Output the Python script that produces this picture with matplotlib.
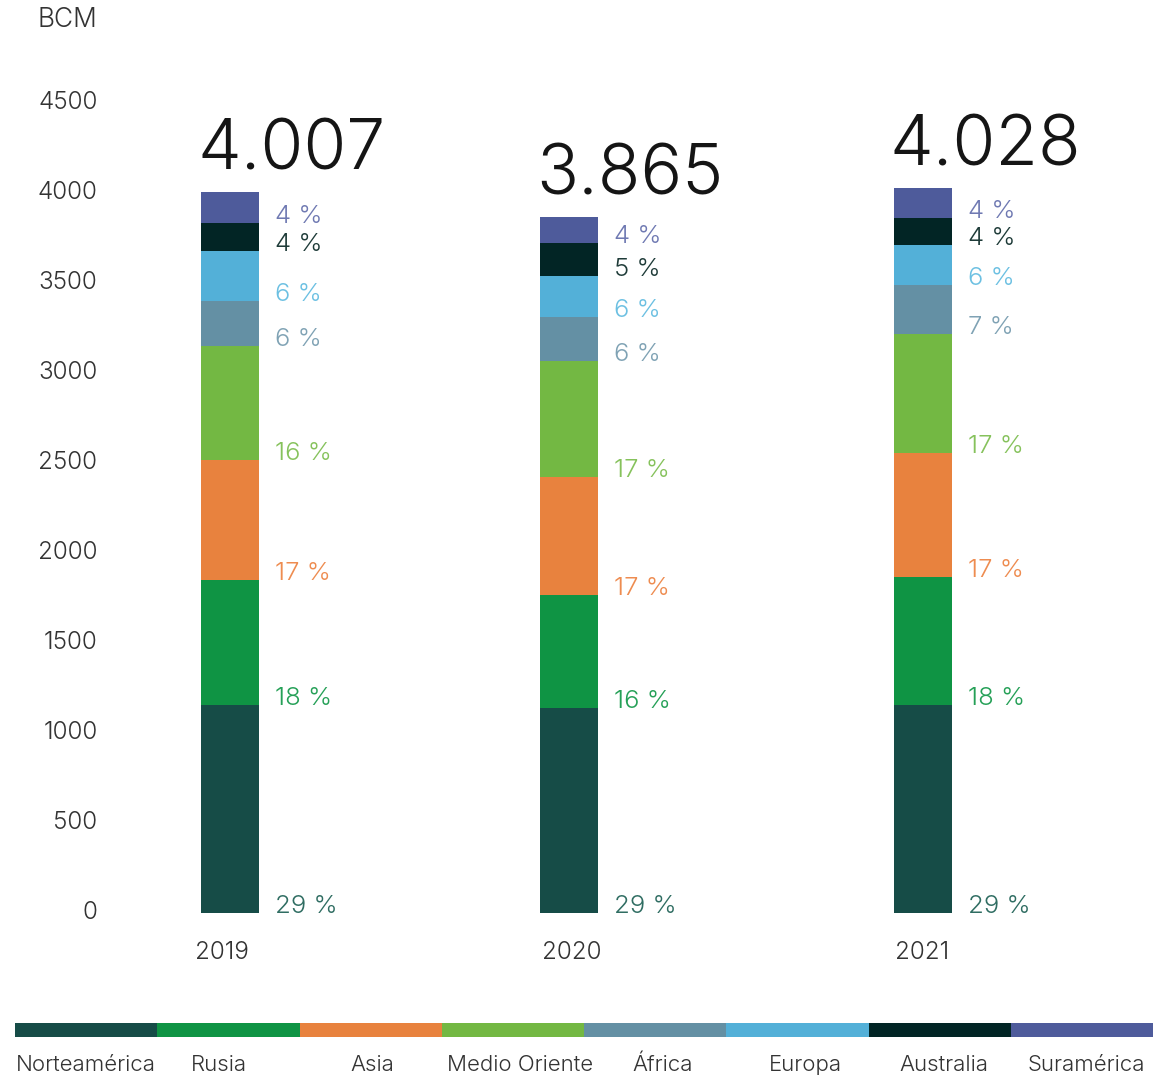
import matplotlib
matplotlib.use("Agg")
import matplotlib.pyplot as plt
import matplotlib.transforms as mtransforms
import numpy as np

years = ["2019", "2020", "2021"]
totals = ["4.007", "3.865", "4.028"]
regions = ["Norteamérica", "Rusia", "Asia", "Medio Oriente", "África",
           "Europa", "Australia", "Suramérica"]

# BCM per region and year (bottom to top of each stack)
norteamerica = [1156, 1139, 1156]
rusia = [694, 630, 711]
asia = [667, 652, 689]
medio_oriente = [633, 646, 661]
africa = [250, 246, 272]
europa = [278, 224, 222]
australia = [156, 184, 150]
suramerica = [173, 144, 167]

shares = [
    ["29 %", "29 %", "29 %"],
    ["18 %", "16 %", "18 %"],
    ["17 %", "17 %", "17 %"],
    ["16 %", "17 %", "17 %"],
    ["6 %", "6 %", "7 %"],
    ["6 %", "6 %", "6 %"],
    ["4 %", "5 %", "4 %"],
    ["4 %", "4 %", "4 %"],
]

y_ticks = [0, 500, 1000, 1500, 2000, 2500, 3000, 3500, 4000, 4500]

bar_colors = ["#164c47", "#0f9444", "#e8823e", "#73b843", "#6490a4",
              "#53b0d8", "#022525", "#4e5b9b"]
text_colors = ["#2f6d62", "#25a057", "#ee8c50", "#86c25c", "#7fa2b4",
               "#6cc0e2", "#1e3b38", "#6f79b2"]

series = [norteamerica, rusia, asia, medio_oriente, africa, europa,
          australia, suramerica]

FONT = ["Inter", "DejaVu Sans"]
plt.rcParams["font.family"] = FONT
plt.rcParams["font.weight"] = 300

W, H = 1162, 1078
fig = plt.figure(figsize=(W / 100, H / 100), dpi=100)

# main axes in pixel layout
ax_left, ax_right, ax_bottom_px, ax_top_px = 110, 1150, 913, 49
ax = fig.add_axes([ax_left / W, (H - ax_bottom_px) / H,
                   (ax_right - ax_left) / W, (ax_bottom_px - ax_top_px) / H])
ymax = (ax_bottom_px - ax_top_px) / 0.18
ax.set_ylim(0, ymax)
ax.set_xlim(ax_left, ax_right)

x_pos = [230, 569, 923]
bar_w = 58

bottoms = np.zeros(3)
for vals, col, tcol, labs in zip(series, bar_colors, text_colors, shares):
    ax.bar(x_pos, vals, width=bar_w, bottom=bottoms, color=col, linewidth=0)
    for i in range(3):
        ax.text(x_pos[i] + bar_w / 2 + 16, bottoms[i], labs[i],
                color=tcol, fontsize=18.5, va="baseline", ha="left",
                fontweight=300)
    bottoms = bottoms + np.array(vals)

for i in range(3):
    ax.text(x_pos[i] - bar_w / 2 - 4, bottoms[i] + 125, totals[i],
            fontsize=50, color="#151515", va="baseline", ha="left",
            fontweight=300)

for s in ax.spines.values():
    s.set_visible(False)
ax.set_yticks(y_ticks)
ax.set_yticklabels([str(t) for t in y_ticks], fontweight=300)
ax.set_xticks(x_pos)
ax.set_xticklabels(years, fontweight=300)
ax.tick_params(axis="y", length=0, pad=9, labelsize=17.5, labelcolor="#333333")
ax.tick_params(axis="x", length=0, pad=22, labelsize=17.5, labelcolor="#333333")
shift = mtransforms.ScaledTranslation(0, 3 / 100, fig.dpi_scale_trans)
for lab in ax.get_yticklabels():
    lab.set_transform(lab.get_transform() + shift)
year_dx = [-8, 3, -1]
for lab, dx in zip(ax.get_xticklabels(), year_dx):
    lab.set_transform(lab.get_transform() +
                      mtransforms.ScaledTranslation(dx / 100, 3 / 100,
                                                    fig.dpi_scale_trans))

fig.text(97 / W, 1 - 20 / H, "BCM", ha="right", va="center", fontsize=19,
         color="#333333", fontweight=300)

# colour strip legend
lg = fig.add_axes([15 / W, (H - 1037) / H, (1153 - 15) / W, 14 / H])
lg.bar(np.arange(len(regions)), np.ones(len(regions)), width=1.0,
       color=bar_colors, linewidth=0)
lg.set_xlim(-0.5, len(regions) - 0.5)
lg.set_ylim(0, 1)
lg.axis("off")
label_x = [86, 219, 372, 520, 663, 805, 944, 1086]
for name, lx in zip(regions, label_x):
    fig.text(lx / W, 1 - 1065 / H, name, ha="center", va="center",
             fontsize=16, color="#333333", fontweight=300)

fig.savefig("out.png", dpi=100, facecolor="white")
